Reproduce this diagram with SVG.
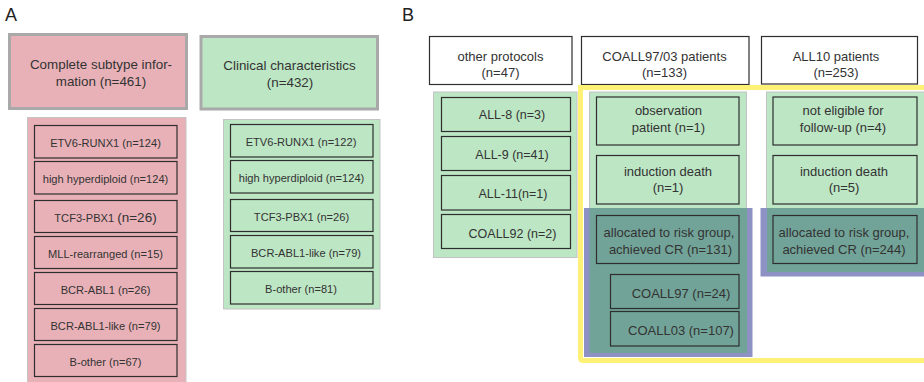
<svg xmlns="http://www.w3.org/2000/svg" width="924" height="382" viewBox="0 0 924 382">
<style>
text{font-family:"Liberation Sans",Arial,sans-serif;fill:#333;text-anchor:middle}
.lbl{font-size:18px;text-anchor:start;fill:#222}
.hA{fill:#e8b1b7;stroke:#a9a9a9;stroke-width:3}
.hG{fill:#bde6c4;stroke:#a9a9a9;stroke-width:3}
.cP{fill:#e8b1b7;stroke:#c4c4c4;stroke-width:1}
.cG{fill:#bde6c4;stroke:#c4c4c4;stroke-width:1}
.bP{fill:#e8b1b7;stroke:#2e2e2e;stroke-width:1.2}
.bG{fill:#bde6c4;stroke:#2e2e2e;stroke-width:1.2}
.bT{fill:#72a398;stroke:#2e2e2e;stroke-width:1.2}
.bW{fill:#fff;stroke:#2e2e2e;stroke-width:1.2}
.lav{fill:#8d91c4}
.teal{fill:#72a398}
.t13{font-size:13px}
.t13h{font-size:13.4px}
.t11{font-size:11.1px}
.t12{font-size:12.5px}
</style>
<rect width="924" height="382" fill="#fff"/>
<text class="lbl" x="5" y="21">A</text>
<text class="lbl" x="402" y="21">B</text>

<g id="A-subtype-header">
<rect class="hA" x="9.5" y="34.5" width="177" height="74"/>
<text class="t13h" x="101" y="69">Complete subtype infor-</text>
<text class="t13h" x="101" y="86">mation (n=461)</text>
</g>
<g id="A-clinical-header">
<rect class="hG" x="201" y="36.5" width="176.5" height="72.5"/>
<text class="t13h" x="289.5" y="70">Clinical characteristics</text>
<text class="t13h" x="290" y="86.5">(n=432)</text>
</g>

<g id="A-subtype-list">
<rect class="cP" x="27.5" y="117.5" width="158.5" height="266"/>
<g id="A-s-etv6"><rect class="bP" x="34.5" y="125.5" width="142.5" height="32.5"/><text class="t11" x="105.5" y="146.5">ETV6-RUNX1 (n=124)</text></g>
<g id="A-s-hh"><rect class="bP" x="34.5" y="161.5" width="142.5" height="32.5"/><text class="t11" x="105.5" y="182.5">high hyperdiploid (n=124)</text></g>
<g id="A-s-tcf3"><rect class="bP" x="34.5" y="200.5" width="142.5" height="32"/><text class="t11" x="105.5" y="221.5">TCF3-PBX1 <tspan font-size="13.5">(n=26)</tspan></text></g>
<g id="A-s-mll"><rect class="bP" x="34.5" y="236.5" width="142.5" height="32"/><text class="t11" x="105.5" y="257.5">MLL-rearranged (n=15)</text></g>
<g id="A-s-bcr"><rect class="bP" x="34.5" y="272.5" width="142.5" height="32"/><text class="t11" x="105.5" y="293.5">BCR-ABL1 (n=26)</text></g>
<g id="A-s-bcrlike"><rect class="bP" x="34.5" y="308.5" width="142.5" height="32"/><text class="t11" x="105.5" y="329.5">BCR-ABL1-like (n=79)</text></g>
<g id="A-s-bother"><rect class="bP" x="34.5" y="344.5" width="142.5" height="32"/><text class="t11" x="105.5" y="365.5">B-other (n=67)</text></g>
</g>

<g id="A-clinical-list">
<rect class="cG" x="223.5" y="119.5" width="156.5" height="189.5"/>
<g id="A-c-etv6"><rect class="bG" x="230.5" y="124.5" width="142.5" height="32.5"/><text class="t11" x="301" y="145.5">ETV6-RUNX1 (n=122)</text></g>
<g id="A-c-hh"><rect class="bG" x="230.5" y="160.5" width="142.5" height="32.5"/><text class="t11" x="301.5" y="181.5">high hyperdiploid (n=124)</text></g>
<g id="A-c-tcf3"><rect class="bG" x="230.5" y="199.5" width="142.5" height="32"/><text class="t11" x="301.5" y="220.5">TCF3-PBX1 (n=26)</text></g>
<g id="A-c-bcrlike"><rect class="bG" x="230.5" y="235.5" width="142.5" height="32.5"/><text class="t11" x="306" y="256.5">BCR-ABL1-like (n=79)</text></g>
<g id="A-c-bother"><rect class="bG" x="230.5" y="271.5" width="142.5" height="32.5"/><text class="t11" x="301" y="292.5">B-other (n=81)</text></g>
</g>

<g id="B-other-header">
<rect class="bW" x="429.5" y="36.5" width="142.5" height="48"/>
<text class="t13" x="500.5" y="60.5">other protocols</text>
<text class="t13" x="500.5" y="76.5">(n=47)</text>
</g>
<g id="B-coall-header">
<rect class="bW" x="581.5" y="36.5" width="167.5" height="48"/>
<text class="t13" x="664.5" y="60.5">COALL97/03 patients</text>
<text class="t13" x="664.5" y="76.5">(n=133)</text>
</g>
<g id="B-all10-header">
<rect class="bW" x="761.5" y="36.5" width="156" height="47.5"/>
<text class="t13" x="836" y="60.5">ALL10 patients</text>
<text class="t13" x="836" y="76.5">(n=253)</text>
</g>

<g id="B-follow-up-frame">
<path d="M930 87.5 H580.5 V357.5 Q580.5 360.5 583.5 360.5 H930" fill="none" stroke="#fff176" stroke-width="5"/>
</g>

<g id="B-other-list">
<rect class="cG" x="433.5" y="92" width="143.5" height="165.5"/>
<g id="B-all8"><rect class="bG" x="441.5" y="97.5" width="129" height="34"/><text class="t12" x="512" y="118.5">ALL-8 (n=3)</text></g>
<g id="B-all9"><rect class="bG" x="441.5" y="136.5" width="129" height="34"/><text class="t12" x="512" y="159">ALL-9 (n=41)</text></g>
<g id="B-all11"><rect class="bG" x="441.5" y="175.5" width="129" height="34.5"/><text class="t12" x="513" y="197.5">ALL-11(n=1)</text></g>
<g id="B-coall92"><rect class="bG" x="441.5" y="214.5" width="129" height="34"/><text class="t12" x="512.5" y="237.5">COALL92 (n=2)</text></g>
</g>

<g id="B-coall-list">
<rect class="cG" x="589.5" y="92" width="157" height="120"/>
<rect class="lav" x="584" y="208" width="168.5" height="149"/>
<rect class="teal" x="589.5" y="208" width="157.5" height="145"/>
<g id="B-c-observation"><rect class="bG" x="596.5" y="97" width="142.5" height="48"/><text class="t13" x="668.5" y="115">observation</text><text class="t13" x="668.5" y="132">patient (n=1)</text></g>
<g id="B-c-death"><rect class="bG" x="596.5" y="155.5" width="142.5" height="48.5"/><text class="t13" x="668" y="175.5">induction death</text><text class="t13" x="668" y="192">(n=1)</text></g>
<g id="B-c-allocated"><rect class="bT" x="596.5" y="215.5" width="142.5" height="48"/><text class="t13" x="669" y="237">allocated to risk group,</text><text class="t13" x="670.5" y="254">achieved CR (n=131)</text></g>
<g id="B-coall97"><rect class="bT" x="610.5" y="274.5" width="128.5" height="34"/><text class="t13" x="681" y="298">COALL97 (n=24)</text></g>
<g id="B-coall03"><rect class="bT" x="610.5" y="311.5" width="128.5" height="34.5"/><text class="t13" x="681" y="335">COALL03 (n=107)</text></g>
</g>

<g id="B-all10-list">
<rect class="cG" x="766.5" y="92" width="160" height="120"/>
<rect class="lav" x="760.5" y="208" width="165" height="68.5"/>
<rect class="teal" x="767" y="208" width="158" height="64"/>
<g id="B-a-noteligible"><rect class="bG" x="773" y="97" width="144" height="48"/><text class="t13" x="843" y="115">not eligible for</text><text class="t13" x="843" y="132">follow-up (n=4)</text></g>
<g id="B-a-death"><rect class="bG" x="773" y="155.5" width="144" height="48.5"/><text class="t13" x="844" y="175.5">induction death</text><text class="t13" x="844" y="192">(n=5)</text></g>
<g id="B-a-allocated"><rect class="bT" x="773" y="215.5" width="144" height="48"/><text class="t13" x="844" y="237">allocated to risk group,</text><text class="t13" x="844" y="254">achieved CR (n=244)</text></g>
</g>

<g id="connectors"></g>
</svg>
